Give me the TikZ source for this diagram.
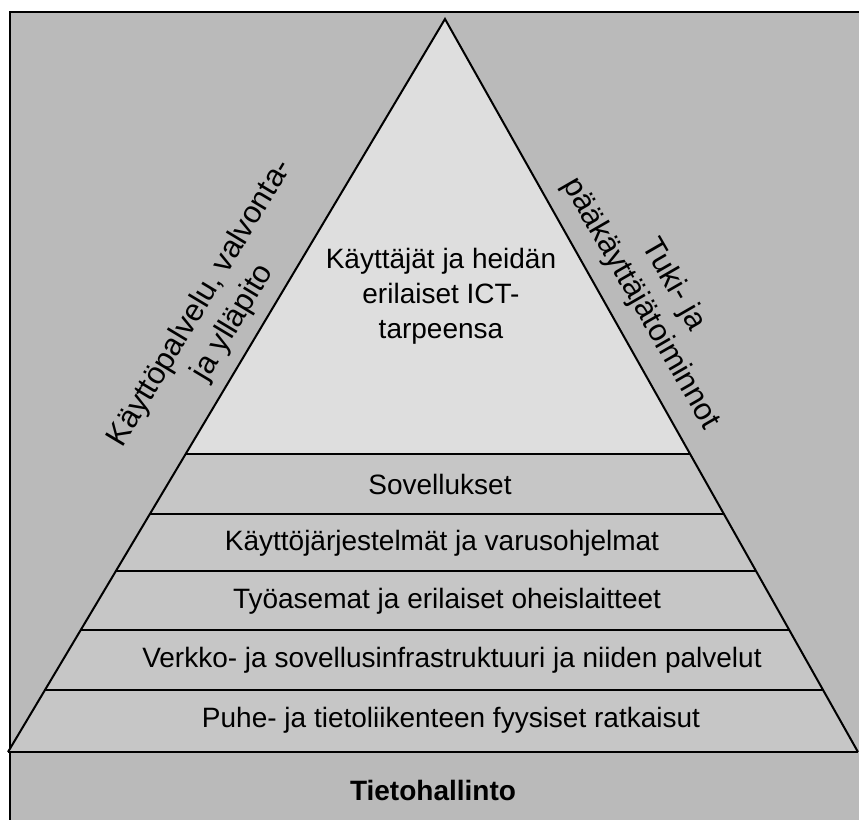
\documentclass[tikz,border=0pt]{standalone}
\usepackage{fontspec}
\setmainfont{Liberation Sans}
\usetikzlibrary{calc}
\definecolor{outerbg}{RGB}{186,186,186}
\definecolor{bandbg}{RGB}{198,198,198}
\definecolor{topbg}{RGB}{222,222,222}
\begin{document}
\begin{tikzpicture}[x=0.5pt,y=-0.5pt,
  bandtext/.style={font=\fontsize{14}{17.5}\selectfont, inner sep=0pt, align=center},
  sidetext/.style={font=\fontsize{15.5}{19}\selectfont, inner sep=0pt, align=center},
  edge/.style={line width=1pt, line join=miter},
  sep/.style={line width=0.8pt}]
\useasboundingbox (0,0) rectangle (859,820);
\fill[white] (0,0) rectangle (859,820);
\fill[outerbg] (10,12) rectangle (859,820);
\draw[line width=0.9pt] (10,820) -- (10,12) -- (859,12);
% triangle
\coordinate (A) at (445,19);
\coordinate (BL) at (8,752);
\coordinate (BR) at (858,752);
\fill[bandbg] (A) -- (BL) -- (BR) -- cycle;
\foreach \n/\yy in {1/454,2/514,3/571,4/630,5/690}{
  \coordinate (l\n) at ($(A)!{(\yy-19)/733}!(BL)$);
  \coordinate (r\n) at ($(A)!{(\yy-19)/733}!(BR)$);
}
\fill[topbg] (A) -- (l1) -- (r1) -- cycle;
\foreach \n in {1,...,5}{ \draw[sep] (l\n) -- (r\n); }
\draw[edge] (BL) -- (A) -- (BR);
\draw[edge] (BL) -- (BR);
% texts
\node[bandtext] (users) at (441,296) {Käyttäjät ja heidän\\erilaiset ICT-\\tarpeensa};
\node[bandtext] (apps) at (440,484) {Sovellukset};
\node[bandtext] (os) at (442,543) {Käyttöjärjestelmät ja varusohjelmat};
\node[bandtext] (ws) at (447,601) {Työasemat ja erilaiset oheislaitteet};
\node[bandtext] (net) at (452,660) {Verkko- ja sovellusinfrastruktuuri ja niiden palvelut};
\node[bandtext] (phys) at (451,720) {Puhe- ja tietoliikenteen fyysiset ratkaisut};
\node[bandtext, font=\fontsize{14}{17.5}\selectfont\bfseries] (it) at (433,790) {Tietohallinto};
\node[sidetext, rotate=59] (left) at (217,313) {Käyttöpalvelu, valvonta-\\ja ylläpito};
\node[sidetext, rotate=-60] (right) at (657,294) {Tuki- ja\\pääkäyttäjätoiminnot};
\end{tikzpicture}
\end{document}
